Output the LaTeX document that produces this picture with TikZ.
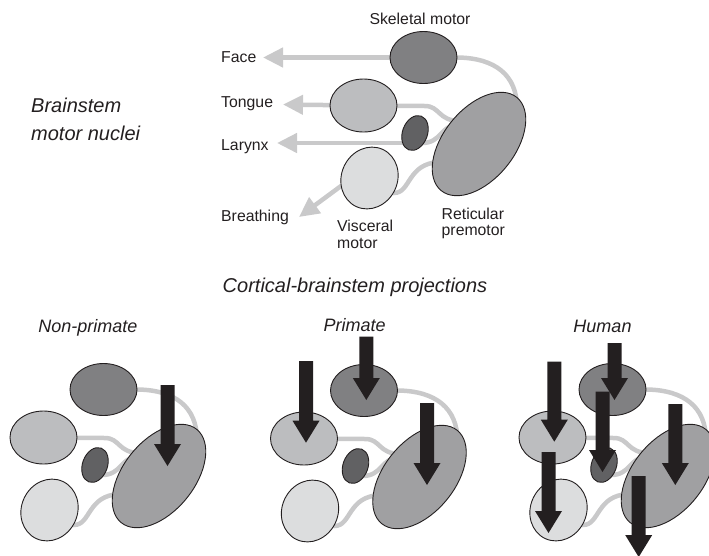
\documentclass[tikz,border=0pt]{standalone}
\usepackage{fontspec}
\setmainfont{Liberation Sans}
\usetikzlibrary{shapes.geometric,arrows.meta,backgrounds}
\definecolor{skc}{HTML}{808082}
\definecolor{toc}{HTML}{BCBDBF}
\definecolor{lxc}{HTML}{616163}
\definecolor{vic}{HTML}{DCDDDE}
\definecolor{rec}{HTML}{A0A0A2}
\definecolor{lnc}{HTML}{C9C9CA}
\definecolor{ink}{HTML}{231F20}
\tikzset{
  nuc/.style={ellipse, draw=ink, line width=0.9pt, inner sep=0pt},
  conn/.style={draw=lnc, line width=4.5pt},
  outarrow/.style={conn, -{Triangle[length=20pt,width=19pt]}},
  lbl/.style={font=\fontsize{15.8}{16.5}\selectfont, text=ink, inner sep=0pt, anchor=base west},
  ttl/.style={font=\fontsize{20}{28.3}\selectfont\itshape, text=ink, inner sep=0pt},
  sub/.style={font=\fontsize{18}{20}\selectfont\itshape, text=ink, inner sep=0pt, anchor=base},
  proj/.style={fill=ink}
}
\newcommand\nucset[1]{%
  \node[nuc, fill=skc, minimum width=67pt, minimum height=52pt] (#1sk) at (423.5,57.5) {};
  \node[nuc, fill=toc, minimum width=67pt, minimum height=53pt] (#1to) at (363.5,105.5) {};
  \node[nuc, fill=lxc, minimum width=25pt, minimum height=36pt, rotate=-20] (#1lx) at (415,133) {};
  \node[nuc, fill=vic, minimum width=56pt, minimum height=63pt, rotate=-25] (#1vi) at (369.5,178) {};
  \node[nuc, fill=rec, minimum width=120pt, minimum height=71pt, rotate=51] (#1re) at (479,144) {};
  \coordinate (#1ra) at (517,108);
  \coordinate (#1rb) at (460,121);
  \coordinate (#1rc) at (458,125);
  \coordinate (#1rd) at (440,162);
  \coordinate (#1lb) at (422,143);
  \begin{scope}[on background layer]
    \draw[conn] (#1sk.center) -- (#1sk.east) .. controls (495,58) and (517,75) .. (#1ra);
    \draw[conn] (#1to.center) -- (425,106) .. controls (440,106) and (438,121) .. (#1rb);
    \draw[conn] (#1rc) .. controls (440,125) and (442,143) .. (#1lb) -- (#1lx.center);
    \draw[conn] (#1vi.center) -- (394,193) .. controls (411,193) and (407,163) .. (#1rd);
  \end{scope}%
}
\newcommand\bigarr[3]{%
  \fill[proj] ({#1-7},{#2}) -- ({#1+7},{#2}) -- ({#1+7},{#3-22}) -- ({#1+13.5},{#3-22})
    -- ({#1},{#3}) -- ({#1-13.5},{#3-22}) -- ({#1-7},{#3-22}) -- cycle;%
}
\begin{document}
\begin{tikzpicture}[x=1pt,y=-1pt]
\useasboundingbox (0,0) rectangle (709,555);
% top group
\nucset{T}
\coordinate (Tface) at (263,57.5);
\coordinate (Ttong) at (283,104.5);
\coordinate (Tlar) at (277,143);
\coordinate (Tbr0) at (360,172);
\coordinate (Tbreath) at (299,217);
\begin{scope}[on background layer]
  \draw[outarrow] (Tsk.center) -- (Tface);
  \draw[outarrow] (Tto.center) -- (Ttong);
  \draw[outarrow] (Tlb) -- (Tlar);
  \draw[outarrow] (Tbr0) -- (Tbreath);
\end{scope}
\node[lbl, anchor=base] (lsk) at (420,24.7) {Skeletal motor};
\node[lbl] (lface) at (221,62.3) {Face};
\node[lbl] (ltong) at (221,107.5) {Tongue};
\node[lbl] (llar) at (221,150.5) {Larynx};
\node[lbl] (lbr) at (221,221.5) {Breathing};
\node[lbl, anchor=north west, align=left] (lvi) at (337,220) {Visceral\\motor};
\node[lbl, anchor=north west, align=left] (lre) at (441.5,207.5) {Reticular\\premotor};
\node[ttl, anchor=north west, align=left] (title) at (31,97.5) {Brainstem\\motor nuclei};
\node[ttl, anchor=base] (cort) at (355,292.7) {Cortical-brainstem projections};
% bottom groups
\begin{scope}[shift={(-320,332)}]
  \nucset{N}
\end{scope}
\begin{scope}[shift={(-59.5,333)}]
  \nucset{P}
\end{scope}
\begin{scope}[shift={(189,332)}]
  \nucset{H}
\end{scope}
\node[sub] (lnp) at (88,332.3) {Non-primate};
\node[sub] (lpr) at (354.7,331.7) {Primate};
\node[sub] (lhu) at (602.5,332.3) {Human};
% cortical projections
\bigarr{167.5}{385}{466}
\bigarr{306}{361}{442.7}
\bigarr{366.3}{336.7}{400}
\bigarr{427}{403}{485}
\bigarr{554.3}{361.7}{441.7}
\bigarr{614.5}{343}{400}
\bigarr{602.5}{391.7}{472}
\bigarr{675.3}{404}{485}
\bigarr{548.5}{452}{533}
\bigarr{638.7}{476}{557}
\end{tikzpicture}
\end{document}
